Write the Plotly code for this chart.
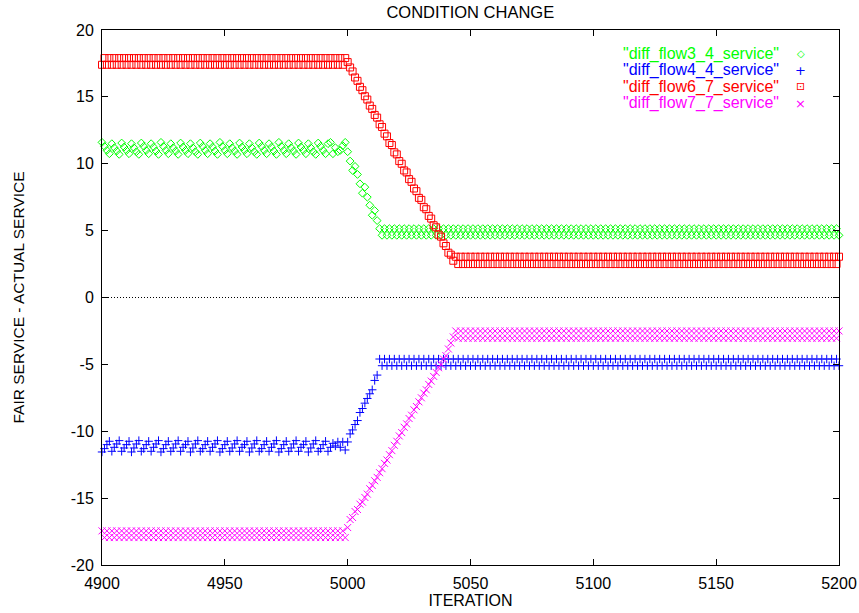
import plotly.graph_objects as go

# Iteration numbers (one sample per iteration)
iteration = list(range(4900, 5201))

# "diff_flow3_4_service"
flow3_4 = [
    11.6, 11.3, 11.0, 10.75, 11.5, 11.2, 10.95, 10.7, 11.55, 11.25,   # 4900
    11.0, 10.75, 11.5, 11.2, 10.9, 10.7, 11.55, 11.3, 11.0, 10.75,    # 4910
    11.5, 11.25, 10.95, 10.7, 11.6, 11.3, 11.0, 10.75, 11.5, 11.2,    # 4920
    10.95, 10.7, 11.55, 11.25, 11.0, 10.75, 11.5, 11.2, 10.9, 10.7,   # 4930
    11.55, 11.3, 11.0, 10.75, 11.5, 11.25, 10.95, 10.7, 11.6, 11.3,   # 4940
    11.0, 10.75, 11.5, 11.2, 10.95, 10.7, 11.55, 11.25, 11.0, 10.75,  # 4950
    11.5, 11.2, 10.9, 10.7, 11.55, 11.3, 11.0, 10.75, 11.5, 11.25,    # 4960
    10.95, 10.7, 11.6, 11.3, 11.0, 10.75, 11.5, 11.2, 10.95, 10.7,    # 4970
    11.55, 11.25, 11.0, 10.75, 11.5, 11.2, 10.9, 10.7, 11.55, 11.3,   # 4980
    11.0, 10.75, 11.5, 11.6, 10.75, 11.2, 10.9, 11.0, 11.35, 11.6,    # 4990
    10.9, 10.2, 9.5, 9.8, 9.2, 8.5, 7.8, 8.25, 7.5, 6.9,              # 5000
    6.15, 6.5, 5.75, 5.15, 4.65, 5.15, 4.65, 5.15, 4.65, 5.15,        # 5010
    4.65, 5.15, 4.65, 5.15, 4.65, 5.15, 4.65, 5.15, 4.65, 5.15,       # 5020
    4.65, 5.15, 4.65, 5.15, 4.65, 5.15, 4.65, 5.15, 4.65, 5.15,       # 5030
    4.65, 5.15, 4.65, 5.15, 4.65, 5.15, 4.65, 5.15, 4.65, 5.15,       # 5040
    4.65, 5.15, 4.65, 5.15, 4.65, 5.15, 4.65, 5.15, 4.65, 5.15,       # 5050
    4.65, 5.15, 4.65, 5.15, 4.65, 5.15, 4.65, 5.15, 4.65, 5.15,       # 5060
    4.65, 5.15, 4.65, 5.15, 4.65, 5.15, 4.65, 5.15, 4.65, 5.15,       # 5070
    4.65, 5.15, 4.65, 5.15, 4.65, 5.15, 4.65, 5.15, 4.65, 5.15,       # 5080
    4.65, 5.15, 4.65, 5.15, 4.65, 5.15, 4.65, 5.15, 4.65, 5.15,       # 5090
    4.65, 5.15, 4.65, 5.15, 4.65, 5.15, 4.65, 5.15, 4.65, 5.15,       # 5100
    4.65, 5.15, 4.65, 5.15, 4.65, 5.15, 4.65, 5.15, 4.65, 5.15,       # 5110
    4.65, 5.15, 4.65, 5.15, 4.65, 5.15, 4.65, 5.15, 4.65, 5.15,       # 5120
    4.65, 5.15, 4.65, 5.15, 4.65, 5.15, 4.65, 5.15, 4.65, 5.15,       # 5130
    4.65, 5.15, 4.65, 5.15, 4.65, 5.15, 4.65, 5.15, 4.65, 5.15,       # 5140
    4.65, 5.15, 4.65, 5.15, 4.65, 5.15, 4.65, 5.15, 4.65, 5.15,       # 5150
    4.65, 5.15, 4.65, 5.15, 4.65, 5.15, 4.65, 5.15, 4.65, 5.15,       # 5160
    4.65, 5.15, 4.65, 5.15, 4.65, 5.15, 4.65, 5.15, 4.65, 5.15,       # 5170
    4.65, 5.15, 4.65, 5.15, 4.65, 5.15, 4.65, 5.15, 4.65, 5.15,       # 5180
    4.65, 5.15, 4.65, 5.15, 4.65, 5.15, 4.65, 5.15, 4.65, 5.15,       # 5190
    4.65,                                                             # 5200
]

# "diff_flow4_4_service"
flow4_4 = [
    -11.55, -11.3, -11.0, -10.75, -11.5, -11.2, -10.95, -10.7, -11.5, -11.25,   # 4900
    -11.0, -10.75, -11.55, -11.25, -10.95, -10.7, -11.5, -11.3, -11.0, -10.75,  # 4910
    -11.5, -11.2, -10.95, -10.7, -11.55, -11.3, -11.0, -10.75, -11.5, -11.25,   # 4920
    -10.95, -10.7, -11.5, -11.2, -11.0, -10.75, -11.55, -11.25, -10.95, -10.7,  # 4930
    -11.5, -11.3, -11.0, -10.75, -11.5, -11.2, -10.95, -10.7, -11.55, -11.3,    # 4940
    -11.0, -10.75, -11.5, -11.25, -10.95, -10.7, -11.5, -11.2, -11.0, -10.75,   # 4950
    -11.55, -11.25, -10.95, -10.7, -11.5, -11.3, -11.0, -10.75, -11.5, -11.2,   # 4960
    -10.95, -10.7, -11.55, -11.3, -11.0, -10.75, -11.5, -11.25, -10.95, -10.7,  # 4970
    -11.5, -11.2, -11.0, -10.75, -11.55, -11.25, -10.95, -10.7, -11.5, -11.3,   # 4980
    -11.0, -10.75, -11.5, -11.2, -10.9, -11.1, -10.8, -11.2, -10.8, -11.4,      # 4990
    -10.8, -10.2, -9.9, -9.5, -9.2, -8.6, -8.3, -7.9, -7.55, -7.2,              # 5000
    -6.9, -6.2, -5.8, -4.6, -5.1, -4.6, -5.1, -4.6, -5.1, -4.6,                 # 5010
    -5.1, -4.6, -5.1, -4.6, -5.1, -4.6, -5.1, -4.6, -5.1, -4.6,                 # 5020
    -5.1, -4.6, -5.1, -4.6, -5.1, -4.6, -5.1, -4.6, -5.1, -4.6,                 # 5030
    -5.1, -4.6, -5.1, -4.6, -5.1, -4.6, -5.1, -4.6, -5.1, -4.6,                 # 5040
    -5.1, -4.6, -5.1, -4.6, -5.1, -4.6, -5.1, -4.6, -5.1, -4.6,                 # 5050
    -5.1, -4.6, -5.1, -4.6, -5.1, -4.6, -5.1, -4.6, -5.1, -4.6,                 # 5060
    -5.1, -4.6, -5.1, -4.6, -5.1, -4.6, -5.1, -4.6, -5.1, -4.6,                 # 5070
    -5.1, -4.6, -5.1, -4.6, -5.1, -4.6, -5.1, -4.6, -5.1, -4.6,                 # 5080
    -5.1, -4.6, -5.1, -4.6, -5.1, -4.6, -5.1, -4.6, -5.1, -4.6,                 # 5090
    -5.1, -4.6, -5.1, -4.6, -5.1, -4.6, -5.1, -4.6, -5.1, -4.6,                 # 5100
    -5.1, -4.6, -5.1, -4.6, -5.1, -4.6, -5.1, -4.6, -5.1, -4.6,                 # 5110
    -5.1, -4.6, -5.1, -4.6, -5.1, -4.6, -5.1, -4.6, -5.1, -4.6,                 # 5120
    -5.1, -4.6, -5.1, -4.6, -5.1, -4.6, -5.1, -4.6, -5.1, -4.6,                 # 5130
    -5.1, -4.6, -5.1, -4.6, -5.1, -4.6, -5.1, -4.6, -5.1, -4.6,                 # 5140
    -5.1, -4.6, -5.1, -4.6, -5.1, -4.6, -5.1, -4.6, -5.1, -4.6,                 # 5150
    -5.1, -4.6, -5.1, -4.6, -5.1, -4.6, -5.1, -4.6, -5.1, -4.6,                 # 5160
    -5.1, -4.6, -5.1, -4.6, -5.1, -4.6, -5.1, -4.6, -5.1, -4.6,                 # 5170
    -5.1, -4.6, -5.1, -4.6, -5.1, -4.6, -5.1, -4.6, -5.1, -4.6,                 # 5180
    -5.1, -4.6, -5.1, -4.6, -5.1, -4.6, -5.1, -4.6, -5.1, -4.6,                 # 5190
    -5.1,                                                                       # 5200
]

# "diff_flow6_7_service"
flow6_7 = [
    17.4, 17.9, 17.4, 17.9, 17.4, 17.9, 17.4, 17.9, 17.4, 17.9,        # 4900
    17.4, 17.9, 17.4, 17.9, 17.4, 17.9, 17.4, 17.9, 17.4, 17.9,        # 4910
    17.4, 17.9, 17.4, 17.9, 17.4, 17.9, 17.4, 17.9, 17.4, 17.9,        # 4920
    17.4, 17.9, 17.4, 17.9, 17.4, 17.9, 17.4, 17.9, 17.4, 17.9,        # 4930
    17.4, 17.9, 17.4, 17.9, 17.4, 17.9, 17.4, 17.9, 17.4, 17.9,        # 4940
    17.4, 17.9, 17.4, 17.9, 17.4, 17.9, 17.4, 17.9, 17.4, 17.9,        # 4950
    17.4, 17.9, 17.4, 17.9, 17.4, 17.9, 17.4, 17.9, 17.4, 17.9,        # 4960
    17.4, 17.9, 17.4, 17.9, 17.4, 17.9, 17.4, 17.9, 17.4, 17.9,        # 4970
    17.4, 17.9, 17.4, 17.9, 17.4, 17.9, 17.4, 17.9, 17.4, 17.9,        # 4980
    17.4, 17.9, 17.4, 17.9, 17.4, 17.9, 17.4, 17.9, 17.4, 17.9,        # 4990
    17.6, 17.2, 16.9, 16.45, 16.2, 15.75, 15.5, 15.05, 14.8, 14.35,    # 5000
    14.1, 13.65, 13.45, 12.95, 12.75, 12.25, 12.05, 11.55, 11.4, 10.85,  # 5010
    10.7, 10.2, 10.0, 9.5, 9.35, 8.85, 8.65, 8.15, 7.95, 7.45,         # 5020
    7.3, 6.75, 6.6, 6.1, 5.9, 5.4, 5.25, 4.7, 4.55, 4.05,              # 5030
    3.85, 3.35, 3.2, 2.75, 3.05, 2.5, 3.05, 2.5, 3.05, 2.5,            # 5040
    3.05, 2.5, 3.05, 2.5, 3.05, 2.5, 3.05, 2.5, 3.05, 2.5,             # 5050
    3.05, 2.5, 3.05, 2.5, 3.05, 2.5, 3.05, 2.5, 3.05, 2.5,             # 5060
    3.05, 2.5, 3.05, 2.5, 3.05, 2.5, 3.05, 2.5, 3.05, 2.5,             # 5070
    3.05, 2.5, 3.05, 2.5, 3.05, 2.5, 3.05, 2.5, 3.05, 2.5,             # 5080
    3.05, 2.5, 3.05, 2.5, 3.05, 2.5, 3.05, 2.5, 3.05, 2.5,             # 5090
    3.05, 2.5, 3.05, 2.5, 3.05, 2.5, 3.05, 2.5, 3.05, 2.5,             # 5100
    3.05, 2.5, 3.05, 2.5, 3.05, 2.5, 3.05, 2.5, 3.05, 2.5,             # 5110
    3.05, 2.5, 3.05, 2.5, 3.05, 2.5, 3.05, 2.5, 3.05, 2.5,             # 5120
    3.05, 2.5, 3.05, 2.5, 3.05, 2.5, 3.05, 2.5, 3.05, 2.5,             # 5130
    3.05, 2.5, 3.05, 2.5, 3.05, 2.5, 3.05, 2.5, 3.05, 2.5,             # 5140
    3.05, 2.5, 3.05, 2.5, 3.05, 2.5, 3.05, 2.5, 3.05, 2.5,             # 5150
    3.05, 2.5, 3.05, 2.5, 3.05, 2.5, 3.05, 2.5, 3.05, 2.5,             # 5160
    3.05, 2.5, 3.05, 2.5, 3.05, 2.5, 3.05, 2.5, 3.05, 2.5,             # 5170
    3.05, 2.5, 3.05, 2.5, 3.05, 2.5, 3.05, 2.5, 3.05, 2.5,             # 5180
    3.05, 2.5, 3.05, 2.5, 3.05, 2.5, 3.05, 2.5, 3.05, 2.5,             # 5190
    3.05,                                                              # 5200
]

# "diff_flow7_7_service"
flow7_7 = [
    -17.45, -17.95, -17.45, -17.95, -17.45, -17.95, -17.45, -17.95, -17.45, -17.95,  # 4900
    -17.45, -17.95, -17.45, -17.95, -17.45, -17.95, -17.45, -17.95, -17.45, -17.95,  # 4910
    -17.45, -17.95, -17.45, -17.95, -17.45, -17.95, -17.45, -17.95, -17.45, -17.95,  # 4920
    -17.45, -17.95, -17.45, -17.95, -17.45, -17.95, -17.45, -17.95, -17.45, -17.95,  # 4930
    -17.45, -17.95, -17.45, -17.95, -17.45, -17.95, -17.45, -17.95, -17.45, -17.95,  # 4940
    -17.45, -17.95, -17.45, -17.95, -17.45, -17.95, -17.45, -17.95, -17.45, -17.95,  # 4950
    -17.45, -17.95, -17.45, -17.95, -17.45, -17.95, -17.45, -17.95, -17.45, -17.95,  # 4960
    -17.45, -17.95, -17.45, -17.95, -17.45, -17.95, -17.45, -17.95, -17.45, -17.95,  # 4970
    -17.45, -17.95, -17.45, -17.95, -17.45, -17.95, -17.45, -17.95, -17.45, -17.95,  # 4980
    -17.45, -17.95, -17.45, -17.95, -17.45, -17.95, -17.45, -17.95, -17.45, -17.95,  # 4990
    -17.2, -16.6, -16.45, -16.0, -15.85, -15.45, -15.3, -14.95, -14.7, -14.3,        # 5000
    -14.05, -13.7, -13.45, -13.1, -12.8, -12.4, -12.15, -11.75, -11.45, -11.05,      # 5010
    -10.75, -10.35, -10.1, -9.7, -9.45, -9.05, -8.8, -8.4, -8.15, -7.8,              # 5020
    -7.5, -7.15, -6.9, -6.5, -6.25, -5.9, -5.6, -5.25, -5.0, -4.6,                   # 5030
    -4.35, -3.85, -3.4, -2.95, -2.5, -3.05, -2.5, -3.05, -2.5, -3.05,                # 5040
    -2.5, -3.05, -2.5, -3.05, -2.5, -3.05, -2.5, -3.05, -2.5, -3.05,                 # 5050
    -2.5, -3.05, -2.5, -3.05, -2.5, -3.05, -2.5, -3.05, -2.5, -3.05,                 # 5060
    -2.5, -3.05, -2.5, -3.05, -2.5, -3.05, -2.5, -3.05, -2.5, -3.05,                 # 5070
    -2.5, -3.05, -2.5, -3.05, -2.5, -3.05, -2.5, -3.05, -2.5, -3.05,                 # 5080
    -2.5, -3.05, -2.5, -3.05, -2.5, -3.05, -2.5, -3.05, -2.5, -3.05,                 # 5090
    -2.5, -3.05, -2.5, -3.05, -2.5, -3.05, -2.5, -3.05, -2.5, -3.05,                 # 5100
    -2.5, -3.05, -2.5, -3.05, -2.5, -3.05, -2.5, -3.05, -2.5, -3.05,                 # 5110
    -2.5, -3.05, -2.5, -3.05, -2.5, -3.05, -2.5, -3.05, -2.5, -3.05,                 # 5120
    -2.5, -3.05, -2.5, -3.05, -2.5, -3.05, -2.5, -3.05, -2.5, -3.05,                 # 5130
    -2.5, -3.05, -2.5, -3.05, -2.5, -3.05, -2.5, -3.05, -2.5, -3.05,                 # 5140
    -2.5, -3.05, -2.5, -3.05, -2.5, -3.05, -2.5, -3.05, -2.5, -3.05,                 # 5150
    -2.5, -3.05, -2.5, -3.05, -2.5, -3.05, -2.5, -3.05, -2.5, -3.05,                 # 5160
    -2.5, -3.05, -2.5, -3.05, -2.5, -3.05, -2.5, -3.05, -2.5, -3.05,                 # 5170
    -2.5, -3.05, -2.5, -3.05, -2.5, -3.05, -2.5, -3.05, -2.5, -3.05,                 # 5180
    -2.5, -3.05, -2.5, -3.05, -2.5, -3.05, -2.5, -3.05, -2.5, -3.05,                 # 5190
    -2.5,                                                                            # 5200
]

series_names = [
    '"diff_flow3_4_service"',
    '"diff_flow4_4_service"',
    '"diff_flow6_7_service"',
    '"diff_flow7_7_service"',
]
series_values = [flow3_4, flow4_4, flow6_7, flow7_7]

x_ticks = [4900, 4950, 5000, 5050, 5100, 5150, 5200]
y_ticks = [-20, -15, -10, -5, 0, 5, 10, 15, 20]

# Styling (gnuplot-like)
colors = ["#00ff00", "#0000ff", "#ff0000", "#ff00ff"]
symbols = ["diamond-open", "cross-thin-open", "square-open", "x-thin-open"]
sizes = [6, 6, 7, 7]
key_glyphs = ["\u25c7", "+", "\u22a1", "\u00d7"]
key_sizes = [10, 13, 11, 13]

FONT = "Liberation Sans, Arial, Helvetica, sans-serif"
W, H = 859, 613
L, R, T, B = 102, 20.3, 29.5, 48
plot_w = W - L - R
plot_h = H - T - B


def px_x(px):
    return (px - L) / plot_w


def px_y(py):
    return (H - B - py) / plot_h


fig = go.Figure()
for name, vals, col, sym, sz in zip(series_names, series_values, colors, symbols, sizes):
    fig.add_trace(go.Scatter(
        x=iteration[:len(vals)], y=vals, mode="markers", name=name,
        marker=dict(symbol=sym, size=sz, color=col, line=dict(color=col, width=1)),
        cliponaxis=False, showlegend=False,
    ))

# dotted zero reference line
fig.add_shape(type="line", xref="paper", x0=0, x1=1, yref="y", y0=0, y1=0,
              line=dict(color="black", width=1, dash="1px,2px"), layer="below")

# key: right-aligned label followed by its symbol
key_rows_px = [53.3, 69.8, 86.3, 102.8]
for name, col, glyph, gsz, ry in zip(series_names, colors, key_glyphs, key_sizes, key_rows_px):
    fig.add_annotation(xref="paper", yref="paper", x=px_x(780), y=px_y(ry),
                       text=name, showarrow=False, xanchor="right", yanchor="middle",
                       borderpad=0, font=dict(family=FONT, size=16, color=col))
    fig.add_annotation(xref="paper", yref="paper", x=px_x(800.5), y=px_y(ry),
                       text=glyph, showarrow=False, xanchor="center", yanchor="middle",
                       borderpad=0, font=dict(family="DejaVu Sans", size=gsz, color=col))

axis_common = dict(
    showline=True, linecolor="black", linewidth=1, mirror="ticks",
    ticks="inside", ticklen=6, tickcolor="black", tickwidth=1,
    showgrid=False, zeroline=False,
    tickfont=dict(family=FONT, size=16, color="black"),
)

fig.update_xaxes(
    range=[4900, 5200], tickvals=x_ticks, ticktext=[str(v) for v in x_ticks],
    ticklabelstandoff=4,
    title=dict(text="ITERATION", font=dict(family=FONT, size=16, color="black"), standoff=0),
    **axis_common,
)
fig.update_yaxes(
    range=[-20, 20], tickvals=y_ticks, ticktext=[str(v) for v in y_ticks],
    ticklabelstandoff=4,
    title=dict(text="FAIR SERVICE - ACTUAL SERVICE", font=dict(family=FONT, size=15.5, color="black"),
               standoff=42),
    **axis_common,
)

fig.update_layout(
    width=W, height=H,
    margin=dict(l=L, r=R, t=T, b=B, autoexpand=False),
    paper_bgcolor="white", plot_bgcolor="white",
    title=dict(text="CONDITION CHANGE", x=(L + plot_w / 2) / W,
               xanchor="center", y=1 - 12.5 / H, yanchor="middle",
               font=dict(family=FONT, size=16.5, color="black")),
    showlegend=False,
)

fig.write_html("out.html")
